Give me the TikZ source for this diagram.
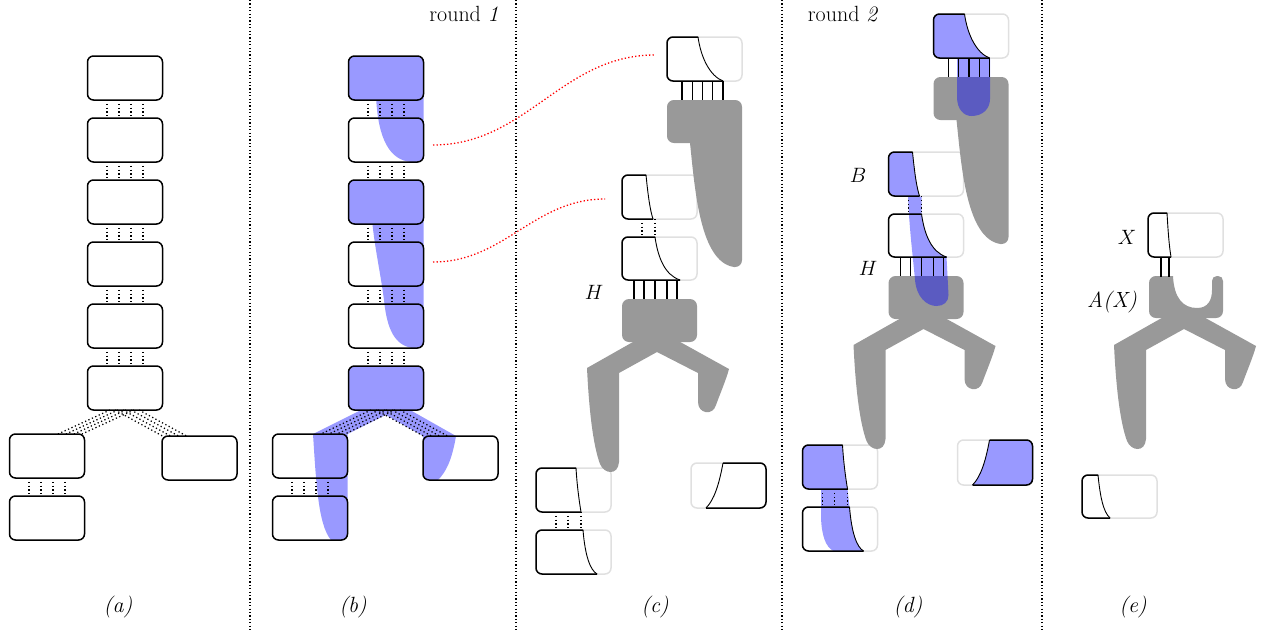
\documentclass[tikz,border=0pt]{standalone}
\usetikzlibrary{calc}
\tikzset{
  box/.style={draw=black, line width=1.5pt, rounded corners=6pt, minimum width=75pt, minimum height=44pt, inner sep=0pt, outer sep=0pt},
  boxfill/.style={box, fill=blue!40},
  conn/.style={line width=1.25pt, dash pattern=on 1.25pt off 2.5pt},
  stick/.style={line width=1.2pt},
  faint/.style={draw=black!12, line width=1.5pt, rounded corners=6pt},
  edge/.style={draw=black, line width=1.5pt, rounded corners=6pt},
  splitline/.style={draw=black, line width=0.9pt},
  bsolid/.style={fill=blue!40},
  btrans/.style={fill=blue, fill opacity=0.4},
  gr/.style={fill=black!40},
  divider/.style={line width=1.2pt, dash pattern=on 1.2pt off 2.2pt},
  redlink/.style={draw=red, line width=1.3pt, dash pattern=on 1.3pt off 2.2pt},
  lab/.style={inner sep=0pt},
}
\newcommand\gone{\fill[gr] (690,143) .. controls (695,190) and (700,262) .. (734,267) -- (735,267) .. controls (739,267) and (742,264) .. (742,260) -- (742,107) .. controls (742,103) and (739,100) .. (735,100) -- (674,100) .. controls (670,100) and (667,103) .. (667,107) -- (667,136) .. controls (667,140) and (670,143) .. (674,143) -- cycle;}
\newcommand\gtwohead{\fill[gr, rounded corners=7pt] (622,299) rectangle (697,342);}
\newcommand\gtwobody{\fill[gr] (640,338) -- (587,368) .. controls (589,410) and (593,445) .. (600,464) .. controls (604,474) and (618,476) .. (619,462) -- (619,373) -- (657,352) -- (698,373) -- (698,402) .. controls (698,414) and (713,416) .. (716,405) .. controls (720,394) and (726,380) .. (729,369) -- (673,338) -- cycle;}
\newcommand\panelbase[1]{%
  \draw[faint] (667,37) rectangle (742,81);
  \draw[faint] (622,175) rectangle (697,219);
  \draw[faint] (622,237) rectangle (697,280);
  \draw[faint] (536,468) rectangle (611,512);
  \draw[faint] (536,530) rectangle (611,574);
  \draw[faint] (691,463) rectangle (766,508);
  \gone \gtwohead \gtwobody
  #1
  \foreach \x in {682,692.3,702.5,712.8,723} \draw[stick] (\x,81) -- (\x,100);
  \foreach \x in {642,655} \draw[conn] (\x,219) -- (\x,237);
  \foreach \x in {634,644,655,667,677} \draw[stick] (\x,280) -- (\x,299);
  \foreach \x in {556,568,581} \draw[conn] (\x,512) -- (\x,530);
  \draw[edge] (698,37) -- (667,37) -- (667,81) -- (723,81);
  \draw[splitline] (698,37) .. controls (701,58) and (710,76) .. (723,81);
  \draw[edge] (646,175) -- (622,175) -- (622,219) -- (653,219);
  \draw[splitline] (646,175) .. controls (648,195) and (650,210) .. (653,219);
  \draw[edge] (655,237) -- (622,237) -- (622,280) -- (680,280);
  \draw[splitline] (655,237) .. controls (658,258) and (665,275) .. (680,280);
  \draw[edge] (576,468) -- (536,468) -- (536,512) -- (581,512);
  \draw[splitline] (576,468) .. controls (577,485) and (579,500) .. (581,512);
  \draw[edge] (583,530) -- (536,530) -- (536,574) -- (597,574);
  \draw[splitline] (583,530) .. controls (585,555) and (590,570) .. (597,574);
  \draw[edge] (723,463) -- (766,463) -- (766,508) -- (706,508);
  \draw[splitline] (706,508) .. controls (714,500) and (719,485) .. (723,463);
}
\newcommand\dblue{%
  \fill[bsolid] (698,37) -- (673,37) .. controls (669.7,37) and (667,39.7) .. (667,43) -- (667,75) .. controls (667,78.3) and (669.7,81) .. (673,81) -- (723,81) .. controls (710,76) and (701,58) .. (698,37) -- cycle;
  \fill[btrans] (690.5,81.7) -- (690.5,120) .. controls (690.5,132) and (697,139) .. (705,139) .. controls (716,139) and (723.5,132) .. (723.5,122) -- (723.5,81.7) -- cycle;
  \fill[bsolid] (646,175) -- (628,175) .. controls (624.7,175) and (622,177.7) .. (622,181) -- (622,213) .. controls (622,216.3) and (624.7,219) .. (628,219) -- (653,219) .. controls (650,210) and (648,195) .. (646,175) -- cycle;
  \fill[btrans] (641.5,219.7) -- (655,219.7) -- (655,237) .. controls (658,258) and (665,275) .. (680,280) -- (682,318) .. controls (682,325) and (677,329) .. (670,329) .. controls (660,329) and (650,320) .. (648.5,303) .. controls (647,285) and (643,255) .. (641.5,219.7) -- cycle;
  \fill[bsolid] (576,468) -- (542,468) .. controls (538.7,468) and (536,470.7) .. (536,474) -- (536,506) .. controls (536,509.3) and (538.7,512) .. (542,512) -- (581,512) .. controls (579,500) and (577,485) .. (576,468) -- cycle;
  \fill[bsolid] (554.5,512) -- (581,512) -- (583,530) .. controls (585,555) and (590,570) .. (597,574) -- (567,574) .. controls (559,570) and (555,558) .. (554.5,540) -- cycle;
  \fill[bsolid] (723,463) -- (760,463) .. controls (763.3,463) and (766,465.7) .. (766,469) -- (766,502) .. controls (766,505.3) and (763.3,508) .. (760,508) -- (706,508) .. controls (714,500) and (719,485) .. (723,463) -- cycle;
}
\begin{document}
\begin{tikzpicture}[x=1pt,y=-1pt,font=\fontsize{22}{26}\selectfont]
\useasboundingbox (0,0) rectangle (1268,632);
% dividers
\foreach \x in {250,516,782,1042} \draw[divider] (\x,0) -- (\x,632);
% ---------- (a)
\foreach \i/\y in {1/78,2/140,3/202,4/264,5/326,6/388} \node[box] (a\i) at (125,\y) {};
\node[box] (aL) at (47,456) {};
\node[box] (aR) at (199.5,458) {};
\node[box] (aLL) at (47,518) {};
\foreach \i/\j in {1/2,2/3,3/4,4/5,5/6,L/LL} \foreach \d in {-18,-6,6,18} \draw[conn] ($(a\i.south)+(\d,0)$) -- ($(a\j.north)+(\d,0)$);
\foreach \k in {0,...,3} {
  \draw[conn] ($(a6.south)+(-15+8*\k,0)$) -- ($(aL.north)+(11+8*\k,0)$);
  \draw[conn] ($(a6.south)+(-10+8*\k,0)$) -- ($(aR.north)+(-37+8*\k,0)$);
}
% ---------- (b)
\fill[bsolid] (376,96) -- (423.5,96) -- (423.5,156) .. controls (423.5,159.3) and (420.8,162) .. (417.5,162) -- (411,162) .. controls (390,160) and (378,140) .. (376,96) -- cycle;
\fill[bsolid] (372,220) -- (423.5,220) -- (423.5,342) .. controls (423.5,345.3) and (420.8,348) .. (417.5,348) -- (412,348) .. controls (395,345) and (387,330) .. (384,300) .. controls (380,270) and (375,250) .. (372,220) -- cycle;
\fill[bsolid] (369,406) -- (313,434) .. controls (316,480) and (318,525) .. (331,540) -- (341.5,540) .. controls (344.8,540) and (347.5,537.3) .. (347.5,534) -- (347.5,434) -- (403.5,406) -- cycle;
\fill[bsolid] (370,406) -- (423,436) -- (423,474) .. controls (423,477.3) and (425.7,480) .. (429,480) -- (438,480) .. controls (446,472) and (452,460) .. (456,436) -- (403,406) -- cycle;
\foreach \i/\y in {2/140,4/264,5/326} \node[box] (b\i) at (386,\y) {};
\foreach \i/\y in {1/78,3/202,6/388} \node[boxfill] (b\i) at (386,\y) {};
\node[box] (bL) at (310,456) {};
\node[box] (bR) at (460.5,458) {};
\node[box] (bLL) at (310,518) {};
\foreach \i/\j in {1/2,2/3,3/4,4/5,5/6,L/LL} \foreach \d in {-18,-6,6,18} \draw[conn] ($(b\i.south)+(\d,0)$) -- ($(b\j.north)+(\d,0)$);
\foreach \k in {0,...,3} {
  \draw[conn] ($(b6.south)+(-15+8*\k,0)$) -- ($(bL.north)+(11+8*\k,0)$);
  \draw[conn] ($(b6.south)+(-10+8*\k,0)$) -- ($(bR.north)+(-37+8*\k,0)$);
}
\coordinate (r1a) at (433,145); \coordinate (r1b) at (655,55);
\coordinate (r2a) at (433,262); \coordinate (r2b) at (605,199);
\draw[redlink] (r1a) to[out=0,in=180] (r1b);
\draw[redlink] (r2a) to[out=0,in=180] (r2b);
% ---------- (c)
\panelbase{}
% ---------- (d)
\begin{scope}[shift={(266.5,-23)}]
\panelbase{\dblue}
\end{scope}
% ---------- (e)
\draw[faint] (1148,213) rectangle (1223,257);
\draw[faint] (1082,475) rectangle (1157,518);
\fill[gr] (1149,283) .. controls (1149,279) and (1152,276) .. (1156,276) -- (1173,276) .. controls (1174,298) and (1183,308) .. (1197,308) .. controls (1208,308) and (1212,300) .. (1212,290) -- (1212,281) .. controls (1212,278) and (1214,276) .. (1217,276) -- (1218,276) .. controls (1221,276) and (1223,278) .. (1223,281) -- (1223,311) .. controls (1223,315) and (1220,318) .. (1216,318) -- (1156,318) .. controls (1152,318) and (1149,315) .. (1149,311) -- cycle;
\begin{scope}[shift={(527,-23)}]
\gtwobody
\end{scope}
\foreach \x in {1161,1169} \draw[stick] (\x,257) -- (\x,277);
\draw[edge] (1167,213) -- (1148,213) -- (1148,257) -- (1171,257);
\draw[splitline] (1167,213) .. controls (1168,230) and (1169,245) .. (1171,257);
\draw[edge] (1098,475) -- (1082,475) -- (1082,518) -- (1110,518);
\draw[splitline] (1098,475) .. controls (1100,495) and (1103,512) .. (1110,518);
% ---------- labels
\node[lab] (rd1) at (464,14) {round \textit{1}};
\node[lab] (rd2) at (843,14) {round \textit{2}};
\node[lab] (lH1) at (594,292) {$H$};
\node[lab] (lH2) at (868,268) {$H$};
\node[lab] (lB) at (858,175) {$B$};
\node[lab] (lX) at (1127,237) {$X$};
\node[lab] (lAX) at (1112,302) {\textit{A(X)}};
\node[lab] (la) at (118,607) {\textit{(a)}};
\node[lab] (lb) at (353,607) {\textit{(b)}};
\node[lab] (lc) at (655,607) {\textit{(c)}};
\node[lab] (ld) at (908,607) {\textit{(d)}};
\node[lab] (le) at (1133,607) {\textit{(e)}};
\end{tikzpicture}
\end{document}
